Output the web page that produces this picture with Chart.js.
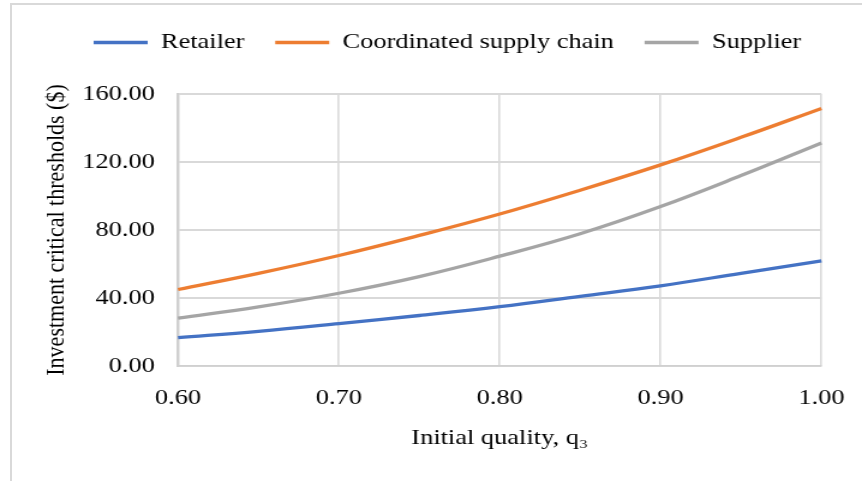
<!DOCTYPE html>
<html><head><meta charset="utf-8">
<script src="https://cdn.jsdelivr.net/npm/chart.js@4.4.1/dist/chart.umd.min.js"></script>
<style>
html,body{margin:0;padding:0;background:#fff;overflow:hidden;}
#wrap{position:relative;width:862px;height:481px;overflow:hidden;background:#fff;}
#frame{position:absolute;left:10px;top:3px;width:900px;height:520px;border-left:2px solid #d9d9d9;border-top:2px solid #d9d9d9;}
#c{position:absolute;left:0;top:0;}
</style></head><body>
<div id="wrap"><div id="frame"></div><canvas id="c" width="718" height="481" style="width:862px;height:481px;"></canvas></div>
<script>
// Data
const quality     = [0.60, 0.65, 0.70, 0.75, 0.80, 0.85, 0.90, 0.95, 1.00];
const retailer    = [16.7, 20.4, 24.9, 29.7, 34.9, 41.0, 47.2, 54.5, 61.8];
const coordinated = [45.0, 54.5, 65.0, 76.8, 89.4, 103.4, 118.3, 134.5, 151.5];
const supplier    = [28.2, 34.8, 42.8, 52.6, 64.6, 77.8, 93.8, 112.0, 131.2];
const seriesNames = ['Retailer', 'Coordinated supply chain', 'Supplier'];
const xTickValues = [0.60, 0.70, 0.80, 0.90, 1.00];
const yTickValues = [0, 40, 80, 120, 160];

const FONT = '"Liberation Serif", "Times New Roman", serif';
const colors = ['#4472C4', '#ED7D31', '#A5A5A5'];
const series = [retailer, coordinated, supplier];

const layoutPlugin = {
  id: 'layoutTweaks',
  beforeUpdate(chart) {
    const L = chart.legend;
    if (L && !L._patched) {
      const f = L.fit;
      L.fit = function () { f.call(this); this.height = 88; };
      L._patched = true;
    }
  },
  afterLayout(chart) {
    const L = chart.legend;
    if (!L || !L.lineWidths) return;
    const pad = L.options.labels.padding;
    const rowStart = (L.left + pad + L.right - L.lineWidths[0]) / 2;
    const dx = 78 - rowStart;
    L.left += dx; L.right += dx;
  }
};

new Chart(document.getElementById('c'), {
  type: 'line',
  data: {
    datasets: series.map((s, i) => ({
      label: seriesNames[i],
      data: quality.map((q, j) => ({x: q, y: s[j]})),
      borderColor: colors[i],
      backgroundColor: colors[i],
      borderWidth: 3.3,
      pointRadius: 0,
      fill: false,
      tension: 0.4,
      clip: false
    }))
  },
  options: {
    responsive: false,
    animation: false,
    devicePixelRatio: 1,
    layout: {padding: {top: 6, left: 0, right: 0, bottom: 0}},
    plugins: {
      tooltip: {enabled: false},
      legend: {
        position: 'top',
        labels: {
          font: {family: FONT, size: 22},
          color: '#000',
          boxWidth: 45,
          boxHeight: 3.5,
          padding: 25.6,
          generateLabels(chart) {
            return Chart.defaults.plugins.legend.labels.generateLabels(chart)
              .map(l => Object.assign(l, {lineWidth: 0, fillStyle: l.strokeStyle}));
          }
        }
      }
    },
    scales: {
      x: {
        type: 'linear', min: 0.6, max: 1.0,
        afterBuildTicks(scale) { scale.ticks = xTickValues.map(v => ({value: v})); },
        afterFit(scale) { scale.height = 115; scale.paddingLeft = 0; scale.paddingRight = 33.8; },
        ticks: {
          font: {family: FONT, size: 22}, color: '#000', padding: 18.8, maxRotation: 0,
          callback: v => Number(v).toFixed(2)
        },
        grid: {color: '#d9d9d9', lineWidth: 1.6, drawTicks: false},
        border: {display: true, color: '#d0d0d0', width: 1.6},
        title: {display: true, text: 'Initial quality, q\u2083', font: {family: FONT, size: 22}, color: '#000', padding: {top: 0, bottom: 29.8}}
      },
      y: {
        min: 0, max: 160,
        afterBuildTicks(scale) { scale.ticks = yTickValues.map(v => ({value: v})); },
        afterFit(scale) { scale.width = 148.3; },
        ticks: {
          font: {family: FONT, size: 22}, color: '#000', padding: 19.3,
          callback: v => Number(v).toFixed(2)
        },
        grid: {color: '#d9d9d9', lineWidth: 2, drawTicks: false},
        border: {display: true, color: '#d0d0d0', width: 2},
        title: {display: true, text: 'Investment critical thresholds ($)', font: {family: FONT, size: 22}, color: '#000', padding: {top: 34.3, bottom: 0}}
      }
    }
  },
  plugins: [layoutPlugin]
});
</script>
</body></html>
